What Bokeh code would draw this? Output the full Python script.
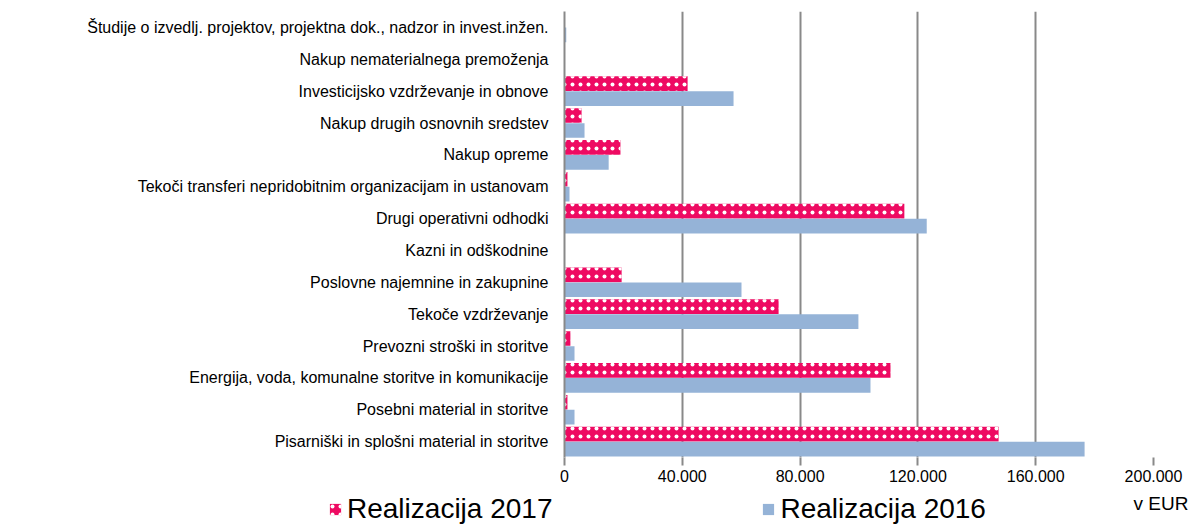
from bokeh.plotting import figure
from bokeh.layouts import column
from bokeh.models import FactorRange, Range1d, FixedTicker, Legend, LegendItem, Label, ColumnDataSource
from bokeh.transform import dodge
from bokeh.embed import file_html
from bokeh.resources import INLINE

categories = [
    "Študije o izvedlj. projektov, projektna dok., nadzor in invest.inžen.",
    "Nakup nematerialnega premoženja",
    "Investicijsko vzdrževanje in obnove",
    "Nakup drugih osnovnih sredstev",
    "Nakup opreme",
    "Tekoči transferi nepridobitnim organizacijam in ustanovam",
    "Drugi operativni odhodki",
    "Kazni in odškodnine",
    "Poslovne najemnine in zakupnine",
    "Tekoče vzdrževanje",
    "Prevozni stroški in storitve",
    "Energija, voda, komunalne storitve in komunikacije",
    "Posebni material in storitve",
    "Pisarniški in splošni material in storitve",
]
real_2017 = [0, 0, 41800, 5800, 19000, 1000, 115400, 0, 19400, 72700, 2000, 110700, 1000, 147400]
real_2016 = [600, 0, 57400, 6800, 15000, 1700, 123000, 0, 60100, 99800, 3400, 103900, 3400, 176600]
ticks = [0, 40000, 80000, 120000, 160000, 200000]
tick_labels = ["0", "40.000", "80.000", "120.000", "160.000", "200.000"]
series_names = ["Realizacija 2017", "Realizacija 2016"]
unit_label = "v EUR"

FONT = "Liberation Sans"
PINK = "#EE0A62"
BLUE = "#95B3D7"
GRID = "#898989"
W = 1201
H_MAIN = 495
H_LEG = 31

src = ColumnDataSource(dict(cat=categories, v17=real_2017, v16=real_2016))

p = figure(
    width=W, height=H_MAIN,
    y_range=FactorRange(factors=list(reversed(categories))),
    x_range=Range1d(0, 200000),
    output_backend="svg", toolbar_location=None,
    min_border_left=564, min_border_right=48, min_border_top=11, min_border_bottom=38,
)
p.frame_align = False
p.outline_line_color = None
p.background_fill_color = "white"

hatch17 = dict(fill_color=PINK, line_color=None, hatch_pattern="dot",
               hatch_color="white", hatch_scale=8, hatch_weight=2)
p.hbar(y=dodge("cat", 0.235, range=p.y_range), right="v17", left=0, height=0.46,
       source=src, **hatch17)
p.hbar(y=dodge("cat", -0.235, range=p.y_range), right="v16", left=0, height=0.46,
       source=src, fill_color=BLUE, line_color=None)

# axes
p.yaxis.axis_line_color = GRID
p.yaxis.axis_line_width = 2
p.yaxis.major_tick_line_color = None
p.yaxis.minor_tick_line_color = None
p.yaxis.major_label_text_font = FONT
p.yaxis.major_label_text_font_size = "16px"
p.yaxis.major_label_text_color = "#000000"
p.yaxis.major_label_standoff = 10

p.xaxis.ticker = FixedTicker(ticks=ticks)
p.xaxis.major_label_overrides = {t: l for t, l in zip(ticks, tick_labels)}
p.xaxis.axis_line_color = None
p.xaxis.major_tick_line_color = GRID
p.xaxis.major_tick_line_width = 2
p.xaxis.major_tick_in = 0
p.xaxis.major_tick_out = 8
p.xaxis.minor_tick_line_color = None
p.xaxis.major_label_text_font = FONT
p.xaxis.major_label_text_font_size = "16px"
p.xaxis.major_label_text_color = "#000000"
p.xaxis.major_label_standoff = 4

p.xgrid.ticker = FixedTicker(ticks=ticks)
p.xgrid.grid_line_color = GRID
p.xgrid.grid_line_width = 2
p.ygrid.grid_line_color = None

# legend strip, full-width frame
q = figure(
    width=W, height=H_LEG, x_range=Range1d(0, 1), y_range=Range1d(0, 1),
    x_axis_type=None, y_axis_type=None,
    output_backend="svg", toolbar_location=None,
    min_border_left=0, min_border_right=0, min_border_top=0, min_border_bottom=0,
)
q.frame_align = False
q.outline_line_color = None
q.border_fill_color = "white"
q.background_fill_color = "white"
# legend-only renderers with zero width (nothing drawn in the strip itself)
l17 = q.hbar(y=[0.5], right=[0], left=0, height=0.1, **hatch17)
l16 = q.hbar(y=[0.5], right=[0], left=0, height=0.1, fill_color=BLUE, line_color=None)

legend = Legend(
    items=[LegendItem(label=series_names[0], renderers=[l17]),
           LegendItem(label=series_names[1], renderers=[l16])],
    orientation="horizontal", location=(328, 1),
    label_text_font=FONT, label_text_font_size="28px", label_text_color="#000000",
    glyph_width=14, glyph_height=14, label_standoff=5, spacing=209,
    border_line_color=None, background_fill_alpha=0, padding=0, margin=0,
)
q.add_layout(legend)

lab = Label(x=1133, y=23, x_units="screen", y_units="screen", text=unit_label,
            text_font=FONT, text_font_size="19px", text_color="#000000",
            text_baseline="middle")
q.add_layout(lab)

layout = column(p, q, spacing=0)
open("out.html", "w").write(file_html(layout, INLINE))
